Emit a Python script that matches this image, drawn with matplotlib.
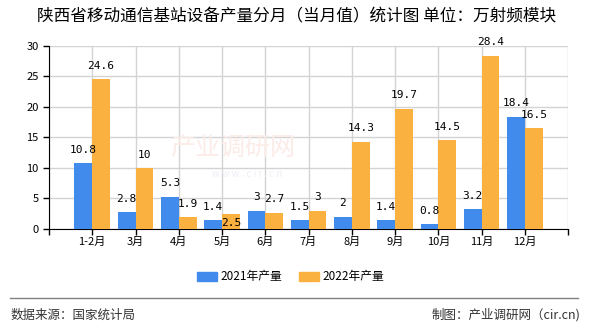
import numpy as np
import matplotlib
matplotlib.use("Agg")
import matplotlib.pyplot as plt
from matplotlib.patches import Patch

plt.rcParams['font.family'] = ['Noto Sans CJK SC', 'DejaVu Sans']

months = ["1-2月", "3月", "4月", "5月", "6月", "7月", "8月", "9月", "10月", "11月", "12月"]
prod_2021 = [10.8, 2.8, 5.3, 1.4, 3, 1.5, 2, 1.4, 0.8, 3.2, 18.4]
prod_2022 = [24.6, 10, 1.9, 2.5, 2.7, 3, 14.3, 19.7, 14.5, 28.4, 16.5]

blue = "#418BEC"
orange = "#FBB140"

fig = plt.figure(figsize=(5.9, 3.3), dpi=100)
ax = fig.add_axes([0.083, 0.306, 0.880, 0.555])

x = np.arange(1, len(months) + 1)
w = 0.41
ax.bar(x - w / 2, prod_2021, w, color=blue, zorder=3)
ax.bar(x + w / 2, prod_2022, w, color=orange, zorder=3)

# value labels (the 5月 2022 label is pushed down in the original)
for i, (a, b) in enumerate(zip(prod_2021, prod_2022)):
    ax.annotate("%g" % a, (x[i] - w / 2, a), xytext=(0, 6), textcoords="offset points",
                ha="center", va="bottom", fontsize=8, family="DejaVu Sans Mono", zorder=4)
    dy = -10 if months[i] == "5月" else 6
    ax.annotate("%g" % b, (x[i] + w / 2, b), xytext=(0, dy), textcoords="offset points",
                ha="center", va="bottom", fontsize=8, family="DejaVu Sans Mono", zorder=4)

ax.set_xlim(0, len(months) + 1)
ax.set_ylim(0, 30)
ax.set_yticks(range(0, 31, 5))
ax.set_xticks(np.arange(0, len(months) + 2))
ax.set_xticklabels([""] + months + [""])
ax.tick_params(axis="both", labelsize=8, length=4, color="black", width=1)
ax.tick_params(axis="x", pad=2)

ax.grid(True, color="#d3d3d3", linewidth=1, zorder=0)
for s in ["top", "right"]:
    ax.spines[s].set_visible(False)
ax.spines["left"].set_color("black")
ax.spines["bottom"].set_color("black")

# faint watermark
fig.text(0.288, 0.552, "产业调研网", fontsize=18, color="#fbece8", va="center", zorder=0)
fig.text(0.36, 0.472, "w w w . c i r . c n", fontsize=7, color="#eeeef8", va="center", zorder=0)

fig.text(0.503, 0.948, "陕西省移动通信基站设备产量分月（当月值）统计图 单位：万射频模块",
         ha="center", va="center", fontsize=12)

handles = [Patch(color=blue), Patch(color=orange)]
fig.legend(handles, ["2021年产量", "2022年产量"], loc="center", bbox_to_anchor=(0.492, 0.161),
           ncol=2, frameon=False, fontsize=8.5, handlelength=1.7, handleheight=0.75,
           handletextpad=0.3, columnspacing=1.4)

fig.add_artist(plt.Line2D([0.017, 0.98], [0.097, 0.097], color="#808080", linewidth=1))
fig.text(0.017, 0.045, "数据来源：国家统计局", ha="left", va="center", fontsize=9, color="#333333")
fig.text(0.983, 0.045, "制图：产业调研网（cir.cn)", ha="right", va="center", fontsize=9, color="#333333")

fig.savefig("out.png", dpi=100)
